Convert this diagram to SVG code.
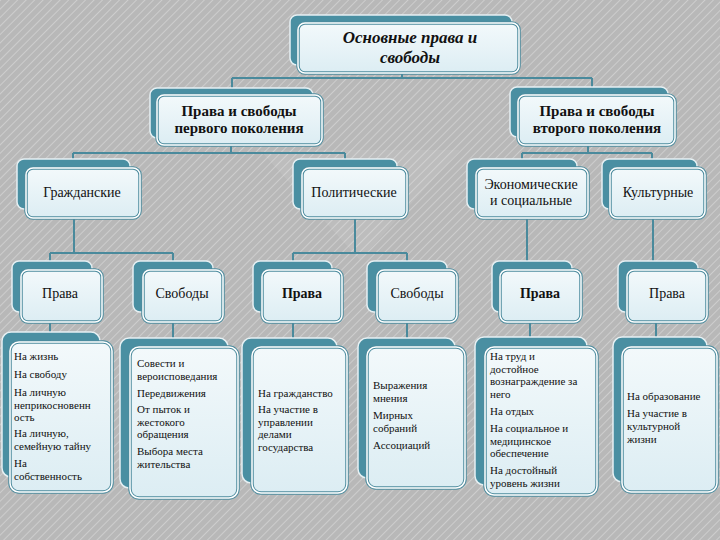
<svg xmlns="http://www.w3.org/2000/svg" width="720" height="540" viewBox="0 0 720 540" font-family="'Liberation Serif','DejaVu Serif',serif">
<defs>
<pattern id="hatch" width="6" height="6" patternUnits="userSpaceOnUse" patternTransform="rotate(45)">
<rect width="6" height="6" fill="#b8b8b8"/>
<line x1="0" y1="0" x2="0" y2="6" stroke="#cdcdcd" stroke-width="2"/>
</pattern>
<linearGradient id="fg" x1="0" y1="0" x2="0" y2="1">
<stop offset="0" stop-color="#f3f9fb"/>
<stop offset="1" stop-color="#dcedf3"/>
</linearGradient>
<style>
.back{fill:#4a8fa2;stroke:#e6f0f3;stroke-width:1.5}
.fo{fill:url(#fg);stroke:#4d8c9e;stroke-width:3.5}
.fi{fill:none;stroke:#ffffff;stroke-width:1.5}
.conn{fill:none;stroke:#4a8a9c;stroke-width:2}
text{font-family:'Liberation Serif','DejaVu Serif',serif;fill:#111}
.t1{font-size:17px;font-style:italic;font-weight:bold;text-anchor:middle}
.t2{font-size:15px;font-weight:bold;text-anchor:middle}
.t3{font-size:14px;text-anchor:middle}
.t4{font-size:14px;text-anchor:middle}
.b{font-weight:bold}
.t5{font-size:11px}
</style>
</defs>
<rect width="720" height="540" fill="url(#hatch)"/>
<polygon points="260,150 460,150 360,260" fill="#ffffff" opacity="0.08"/>

<g id="connectors">
<path class="conn" d="M402 73 V78 M232 78 H592 M232 78 V88 M592 78 V87"/>
<path class="conn" d="M231 145 V153 M73 153 H345 M73 153 V159 M345 153 V159"/>
<path class="conn" d="M588 145 V153 M522 153 H652 M522 153 V159 M652 153 V159"/>
<path class="conn" d="M74 218 V253 M50 253 H173 M50 253 V261 M173 253 V261"/>
<path class="conn" d="M355 218 V253 M293 253 H407 M293 253 V261 M407 253 V261"/>
<path class="conn" d="M527 218 V261 M653 218 V261"/>
<path class="conn" d="M50 322 V332 M173 322 V338 M293 322 V338 M407 322 V338 M530 322 V337 M656 322 V337"/>
</g>

<g id="root">
<rect class="back" x="290" y="15" width="222" height="50" rx="7"/>
<rect class="fo" x="298" y="23" width="221" height="50" rx="7"/>
<rect class="fi" x="298" y="23" width="221" height="50" rx="7"/>
<text class="t1" x="410" y="43">Основные права и</text>
<text class="t1" x="410" y="63">свободы</text>
</g>

<g id="gen1">
<rect class="back" x="150" y="88" width="163" height="50" rx="7"/>
<rect class="fo" x="157" y="95" width="165" height="50" rx="7"/>
<rect class="fi" x="157" y="95" width="165" height="50" rx="7"/>
<text class="t2" x="239" y="116">Права и свободы</text>
<text class="t2" x="239" y="133">первого поколения</text>
</g>

<g id="gen2">
<rect class="back" x="510" y="87" width="158" height="50" rx="7"/>
<rect class="fo" x="518" y="95" width="157" height="50" rx="7"/>
<rect class="fi" x="518" y="95" width="157" height="50" rx="7"/>
<text class="t2" x="597" y="116">Права и свободы</text>
<text class="t2" x="597" y="133">второго поколения</text>
</g>

<g id="civil">
<rect class="back" x="17" y="159" width="113" height="50" rx="7"/>
<rect class="fo" x="26" y="168" width="114" height="50" rx="7"/>
<rect class="fi" x="26" y="168" width="114" height="50" rx="7"/>
<text class="t3" x="82" y="197">Гражданские</text>
</g>

<g id="political">
<rect class="back" x="293" y="159" width="104" height="50" rx="7"/>
<rect class="fo" x="302" y="168" width="105" height="50" rx="7"/>
<rect class="fi" x="302" y="168" width="105" height="50" rx="7"/>
<text class="t3" x="354" y="197">Политические</text>
</g>

<g id="economic">
<rect class="back" x="467" y="159" width="110" height="50" rx="7"/>
<rect class="fo" x="476" y="168" width="112" height="50" rx="7"/>
<rect class="fi" x="476" y="168" width="112" height="50" rx="7"/>
<text class="t3" x="531" y="189">Экономические</text>
<text class="t3" x="531" y="205">и социальные</text>
</g>

<g id="cultural">
<rect class="back" x="602" y="159" width="95" height="50" rx="7"/>
<rect class="fo" x="610" y="168" width="95" height="50" rx="7"/>
<rect class="fi" x="610" y="168" width="95" height="50" rx="7"/>
<text class="t3" x="658" y="197">Культурные</text>
</g>

<g id="civil-rights">
<rect class="back" x="12" y="261" width="80" height="51" rx="7"/>
<rect class="fo" x="21" y="270" width="81" height="52" rx="7"/>
<rect class="fi" x="21" y="270" width="81" height="52" rx="7"/>
<text class="t4" x="60" y="298">Права</text>
</g>

<g id="civil-freedoms">
<rect class="back" x="133" y="261" width="80" height="51" rx="7"/>
<rect class="fo" x="143" y="270" width="80" height="52" rx="7"/>
<rect class="fi" x="143" y="270" width="80" height="52" rx="7"/>
<text class="t4" x="182" y="298">Свободы</text>
</g>

<g id="political-rights">
<rect class="back" x="253" y="261" width="79" height="51" rx="7"/>
<rect class="fo" x="262" y="270" width="80" height="52" rx="7"/>
<rect class="fi" x="262" y="270" width="80" height="52" rx="7"/>
<text class="t4 b" x="302" y="298">Права</text>
</g>

<g id="political-freedoms">
<rect class="back" x="367" y="261" width="80" height="51" rx="7"/>
<rect class="fo" x="377" y="270" width="80" height="52" rx="7"/>
<rect class="fi" x="377" y="270" width="80" height="52" rx="7"/>
<text class="t4" x="417" y="298">Свободы</text>
</g>

<g id="economic-rights">
<rect class="back" x="492" y="261" width="80" height="51" rx="7"/>
<rect class="fo" x="500" y="270" width="81" height="52" rx="7"/>
<rect class="fi" x="500" y="270" width="81" height="52" rx="7"/>
<text class="t4 b" x="540" y="298">Права</text>
</g>

<g id="cultural-rights">
<rect class="back" x="618" y="261" width="80" height="51" rx="7"/>
<rect class="fo" x="627" y="270" width="80" height="52" rx="7"/>
<rect class="fi" x="627" y="270" width="80" height="52" rx="7"/>
<text class="t4" x="667" y="298">Права</text>
</g>

<g id="list-civil-rights">
<rect class="back" x="2" y="332" width="98" height="145" rx="9"/>
<rect class="fo" x="10" y="342" width="102" height="150" rx="9"/>
<rect class="fi" x="10" y="342" width="102" height="150" rx="9"/>
<text class="t5" x="14" y="360">На жизнь</text>
<text class="t5" x="14" y="378">На свободу</text>
<text class="t5" x="14" y="396">На личную</text>
<text class="t5" x="14" y="408.5">неприкосновенн</text>
<text class="t5" x="14" y="421">ость</text>
<text class="t5" x="14" y="437">На личную,</text>
<text class="t5" x="14" y="449.5">семейную тайну</text>
<text class="t5" x="14" y="467">На</text>
<text class="t5" x="14" y="479.5">собственность</text>
</g>

<g id="list-civil-freedoms">
<rect class="back" x="120" y="338" width="108" height="150" rx="9"/>
<rect class="fo" x="130" y="347" width="108" height="151" rx="9"/>
<rect class="fi" x="130" y="347" width="108" height="151" rx="9"/>
<text class="t5" x="137" y="367">Совести и</text>
<text class="t5" x="137" y="379.5">вероисповедания</text>
<text class="t5" x="137" y="397">Передвижения</text>
<text class="t5" x="137" y="413">От пыток и</text>
<text class="t5" x="137" y="425.5">жестокого</text>
<text class="t5" x="137" y="438">обращения</text>
<text class="t5" x="137" y="455">Выбора места</text>
<text class="t5" x="137" y="467.5">жительства</text>
</g>

<g id="list-political-rights">
<rect class="back" x="242" y="338" width="95" height="145" rx="9"/>
<rect class="fo" x="252" y="347" width="95" height="146" rx="9"/>
<rect class="fi" x="252" y="347" width="95" height="146" rx="9"/>
<text class="t5" x="258" y="397">На гражданство</text>
<text class="t5" x="258" y="413">На участие в</text>
<text class="t5" x="258" y="425.5">управлении</text>
<text class="t5" x="258" y="438">делами</text>
<text class="t5" x="258" y="450.5">государства</text>
</g>

<g id="list-political-freedoms">
<rect class="back" x="358" y="338" width="97" height="140" rx="9"/>
<rect class="fo" x="367" y="347" width="98" height="141" rx="9"/>
<rect class="fi" x="367" y="347" width="98" height="141" rx="9"/>
<text class="t5" x="373" y="389">Выражения</text>
<text class="t5" x="373" y="402">мнения</text>
<text class="t5" x="373" y="419">Мирных</text>
<text class="t5" x="373" y="432">собраний</text>
<text class="t5" x="373" y="449">Ассоциаций</text>
</g>

<g id="list-economic-rights">
<rect class="back" x="475" y="337" width="112" height="148" rx="9"/>
<rect class="fo" x="485" y="347" width="112" height="148" rx="9"/>
<rect class="fi" x="485" y="347" width="112" height="148" rx="9"/>
<text class="t5" x="490" y="360">На труд и</text>
<text class="t5" x="490" y="372.5">достойное</text>
<text class="t5" x="490" y="385">вознаграждение за</text>
<text class="t5" x="490" y="397.5">него</text>
<text class="t5" x="490" y="415">На отдых</text>
<text class="t5" x="490" y="432">На социальное и</text>
<text class="t5" x="490" y="444.5">медицинское</text>
<text class="t5" x="490" y="457">обеспечение</text>
<text class="t5" x="490" y="474">На достойный</text>
<text class="t5" x="490" y="486.5">уровень жизни</text>
</g>

<g id="list-cultural-rights">
<rect class="back" x="613" y="337" width="94" height="145" rx="9"/>
<rect class="fo" x="622" y="347" width="95" height="145" rx="9"/>
<rect class="fi" x="622" y="347" width="95" height="145" rx="9"/>
<text class="t5" x="627" y="400">На образование</text>
<text class="t5" x="627" y="417">На участие в</text>
<text class="t5" x="627" y="430">культурной</text>
<text class="t5" x="627" y="443">жизни</text>
</g>
</svg>
